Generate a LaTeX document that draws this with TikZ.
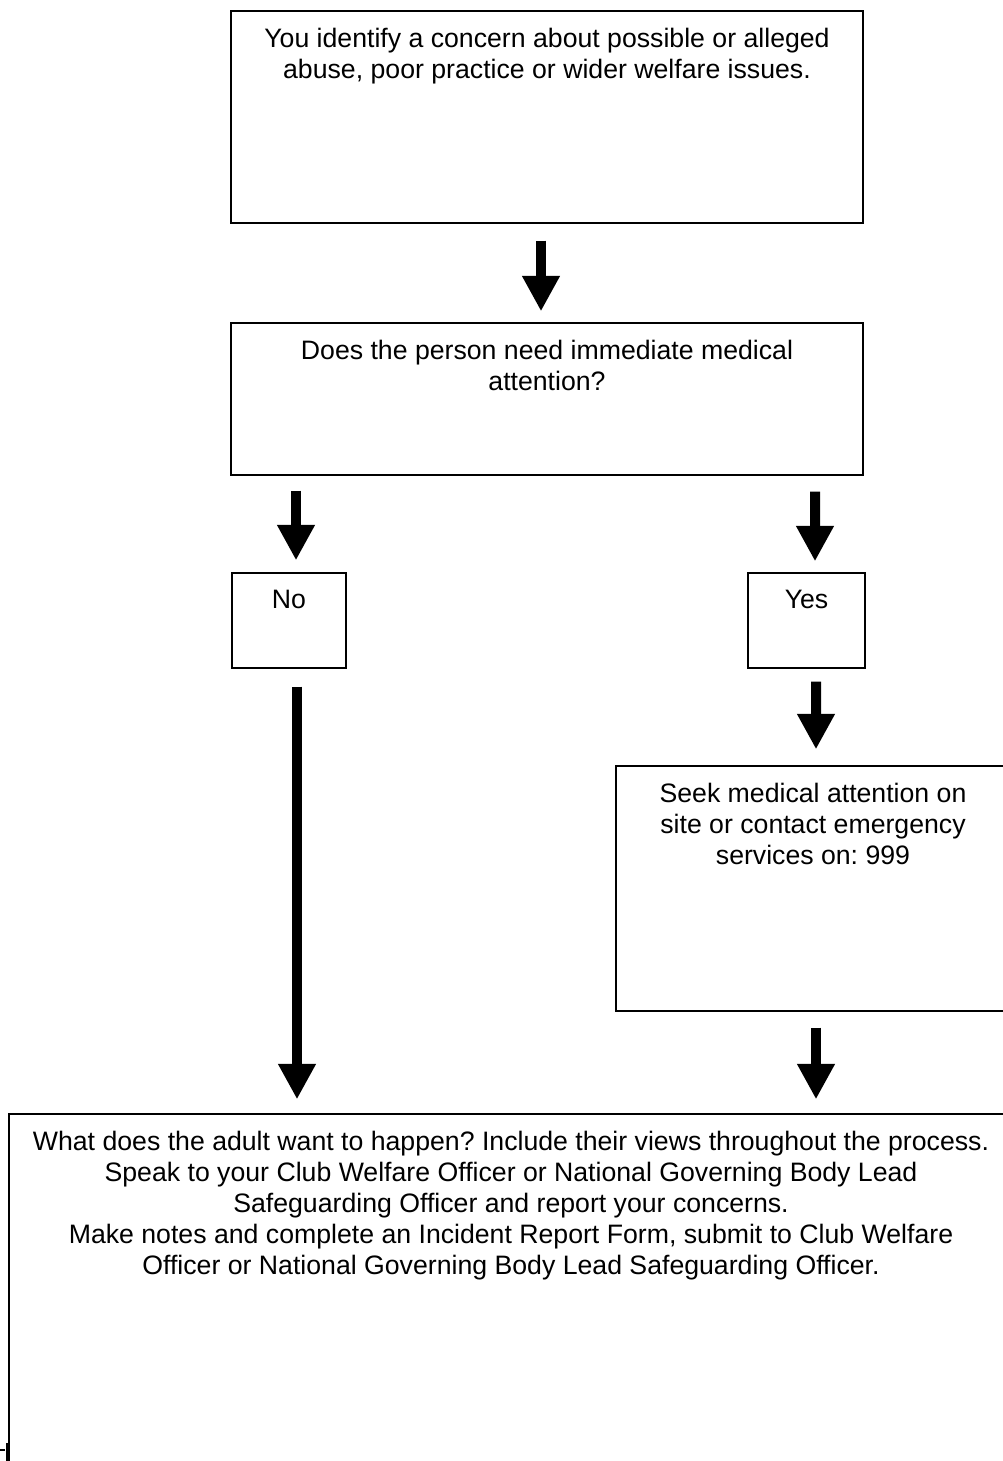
\documentclass[tikz,border=0pt]{standalone}
\usepackage{fontspec}
\setmainfont{Liberation Sans}
\usetikzlibrary{calc}
\usetikzlibrary{arrows.meta}
\usetikzlibrary{fit}
\frenchspacing

\begin{document}
\begin{tikzpicture}[x=0.45pt, y=-0.45pt,
  box/.style={draw, line width=0.6pt, inner sep=0pt},
  txt/.style={font=\fontsize{12}{13.95}\selectfont, align=center, inner sep=0pt, anchor=north},
  bigarrow/.style={line width=4.5pt, -{Triangle[width=16pt,length=16pt]}}]
\clip (0,0) rectangle (1003,1461);

\node[box, fit={(231,11) (863,223)}] (concern) {};
\node[box, fit={(231,323) (863,475)}] (question) {};
\node[box, fit={(232,573) (346,668)}] (no) {};
\node[box, fit={(748,573) (865,668)}] (yes) {};
\node[box, fit={(616,766) (1010,1011)}] (seek) {};
\node[box, fit={(9,1114) (1013,1480)}] (report) {};

\node[txt] (concerntxt) at ($(concern.north)+(0,17)$) {You identify a concern about possible or alleged\\abuse, poor practice or wider welfare issues.};
\node[txt] (questiontxt) at ($(question.north)+(0,17)$) {Does the person need immediate medical\\attention?};
\node[txt] (notxt) at ($(no.north)+(0,17)$) {No};
\node[txt] (yestxt) at ($(yes.north)+(0,17)$) {Yes};
\node[txt] (seektxt) at ($(seek.north)+(0,17)$) {Seek medical attention on\\site or contact emergency\\services on: 999};
\node[txt] (reporttxt) at ($(report.north)+(0,17)$) {What does the adult want to happen? Include their views throughout the process.\\Speak to your Club Welfare Officer or National Governing Body Lead\\Safeguarding Officer and report your concerns.\\Make notes and complete an Incident Report Form, submit to Club Welfare\\Officer or National Governing Body Lead Safeguarding Officer.};

% arrows between the boxes
\draw[bigarrow] ($(concern.south)+(-6,17)$) -- ($(question.north)+(-6,-11)$);
\draw[bigarrow] ($(question.south)+(-251,15)$) -- ($(no.north)+(7,-12)$);
\draw[bigarrow] ($(question.south)+(268,16)$) -- ($(yes.north)+(8.5,-11)$);
\draw[bigarrow] ($(no.south)+(8,18)$) -- ($(report.north)+(-214,-14)$);
\draw[bigarrow] ($(yes.south)+(9.5,13)$) -- ($(seek.north)+(3,-16)$);
\draw[bigarrow] ($(seek.south)+(3,16)$) -- ($(report.north)+(305,-14)$);

\draw[line width=0.6pt] (0,1450) -- (5,1450);
\draw[line width=0.6pt] (7,1443) -- (7,1461);
\end{tikzpicture}
\end{document}
